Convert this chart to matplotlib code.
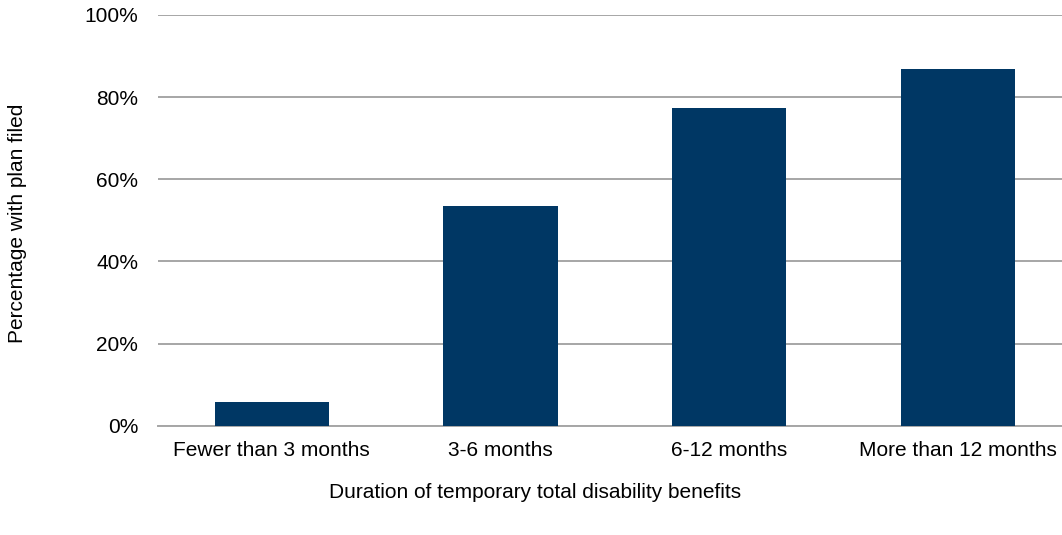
import matplotlib
matplotlib.use("Agg")
import matplotlib.pyplot as plt
from matplotlib.ticker import PercentFormatter

# values
categories = ["Fewer than 3 months", "3-6 months", "6-12 months", "More than 12 months"]
pct_with_plan = [5.8, 53.5, 77.4, 86.9]
y_ticks = [0, 20, 40, 60, 80, 100]

plt.rcParams['font.family'] = ['Liberation Sans', 'DejaVu Sans']

W, H = 1062, 535
fig = plt.figure(figsize=(W / 100, H / 100), dpi=100)
# axes runs a bit past the right edge, as in the original
left, right = 157.5, 1072.0
top, bottom = 15.0, 425.7
ax = fig.add_axes([left / W, 1 - bottom / H, (right - left) / W, (bottom - top) / H])

x = range(len(categories))
ax.bar(x, pct_with_plan, width=0.5, color='#003764', zorder=3)
ax.set_xlim(-0.5, len(categories) - 0.5)
ax.set_ylim(0, 100)
ax.set_yticks(y_ticks)
ax.yaxis.set_major_formatter(PercentFormatter(decimals=0))
ax.set_xticks(list(x))
ax.set_xticklabels(categories)

ax.grid(axis='y', color='#A6A6A6', linewidth=1.4, zorder=0)
ax.set_axisbelow(True)
for s in ['top', 'right', 'left']:
    ax.spines[s].set_visible(False)
ax.spines['bottom'].set_color('#A6A6A6')
ax.spines['bottom'].set_linewidth(1.4)
ax.tick_params(axis='both', length=0, labelsize=15, colors='#000000')
ax.tick_params(axis='y', pad=14)
ax.tick_params(axis='x', pad=11)

fig.text(18 / W, 1 - 223 / H, "Percentage with plan filed", rotation=90,
         ha='center', va='center', fontsize=15)
fig.text(535 / W, 1 - 493 / H, "Duration of temporary total disability benefits",
         ha='center', va='center', fontsize=15)

fig.savefig("out.png", dpi=100)
